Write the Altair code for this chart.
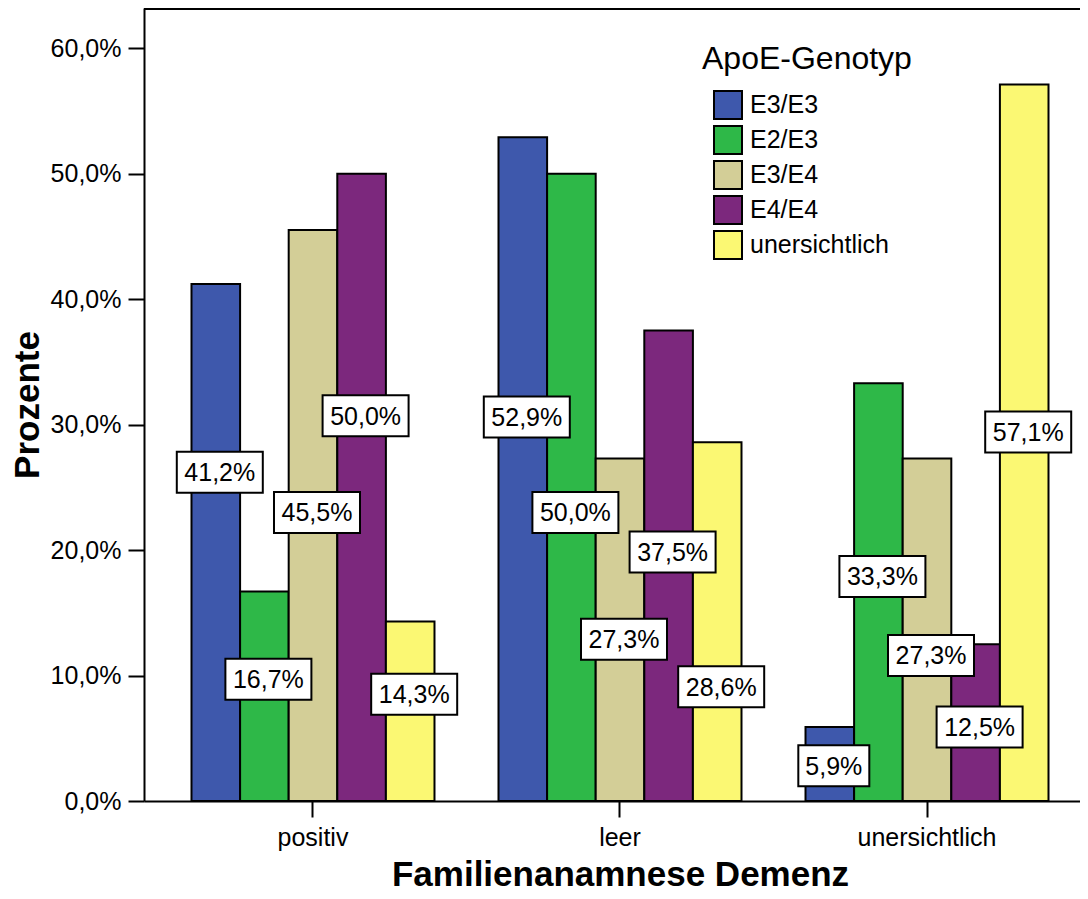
import altair as alt
import pandas as pd

# ---- data ----
groups = ["positiv", "leer", "unersichtlich"]
genotypes = ["E3/E3", "E2/E3", "E3/E4", "E4/E4", "unersichtlich"]
colors = ["#3E58AC", "#2EB848", "#D3CE97", "#7C287D", "#FBF873"]

values_positiv = [41.2, 16.7, 45.5, 50.0, 14.3]
values_leer = [52.9, 50.0, 27.3, 37.5, 28.6]
values_unersichtlich = [5.9, 33.3, 27.3, 12.5, 57.1]

# where the value boxes sit (in percent units on the y scale)
labelpos_positiv = [26.2, 9.7, 23.0, 30.7, 8.5]
labelpos_leer = [30.6, 23.0, 12.9, 19.85, 9.1]
labelpos_unersichtlich = [2.8, 17.9, 11.6, 5.9, 29.4]

rows = []
for g, vals, lps in zip(groups,
                        [values_positiv, values_leer, values_unersichtlich],
                        [labelpos_positiv, labelpos_leer, labelpos_unersichtlich]):
    for gt, v, lp in zip(genotypes, vals, lps):
        rows.append({"group": g, "genotype": gt, "value": v, "lpos": lp})
df = pd.DataFrame(rows)

FONT = "Liberation Sans"
W, H = 936, 793

x_enc = alt.X(
    "group:N", sort=groups,
    scale=alt.Scale(range=[0, 952], paddingInner=0.2085, paddingOuter=0.1547),
    axis=alt.Axis(
        title="Familienanamnese Demenz", labelAngle=0,
        labelFont=FONT, labelFontSize=25, labelColor="black",
        labelBaseline="alphabetic", labelPadding=28,
        tickSize=16, tickWidth=2, tickColor="black",
        domainColor="black", domainWidth=2,
        titleFont=FONT, titleFontSize=35, titleFontWeight="bold", titleColor="black",
        titleX=476, titleY=84, titleAlign="center", titleBaseline="alphabetic",
        grid=False,
    ),
)
xo_enc = alt.XOffset("genotype:N", sort=genotypes,
                     scale=alt.Scale(paddingInner=0, paddingOuter=0))

y_scale = alt.Scale(domain=[0, 63.2], nice=False, zero=True)

bars = alt.Chart(df).mark_bar(stroke="black", strokeWidth=2, opacity=1).encode(
    x=x_enc,
    xOffset=xo_enc,
    y=alt.Y(
        "value:Q", scale=y_scale,
        axis=alt.Axis(
            title="Prozente", values=[0, 10, 20, 30, 40, 50, 60],
            labelExpr="replace(format(datum.value, '.1f'), '.', ',') + '%'",
            labelFont=FONT, labelFontSize=25, labelColor="black", labelPadding=7,
            tickSize=16, tickWidth=2, tickColor="black",
            domainColor="black", domainWidth=2, grid=False,
            titleFont=FONT, titleFontSize=35, titleFontWeight="bold", titleColor="black",
            titleAngle=270, titleX=-106, titleY=H / 2, titleAlign="center",
            titleBaseline="alphabetic",
        ),
    ),
    color=alt.Color(
        "genotype:N", sort=genotypes,
        scale=alt.Scale(domain=genotypes, range=colors),
        legend=alt.Legend(
            title="ApoE-Genotyp", orient="none", legendX=558, legendY=36,
            titleFont=FONT, titleFontSize=32, titleFontWeight="normal", titleColor="black",
            titlePadding=14, titleLimit=500,
            labelFont=FONT, labelFontSize=25, labelColor="black", labelOffset=7,
            labelLimit=400,
            symbolType="square", symbolSize=784, symbolStrokeColor="black",
            symbolStrokeWidth=2, symbolOpacity=1, symbolOffset=11,
            rowPadding=-1, padding=0,
        ),
    ),
)

boxes = alt.Chart(df).transform_calculate(
    label="replace(format(datum.value, '.1f'), '.', ',') + '%'"
).transform_calculate(
    w="length(datum.label) * 15 + 11"
).transform_calculate(
    r="datum.w / 2",
    sz="datum.w * datum.w",
).transform_calculate(
    hy="20.5 / datum.r",
    ox="4 / datum.r",
).transform_calculate(
    shp="'M' + (-1 + datum.ox) + ',' + (-datum.hy) + 'L' + (1 + datum.ox) + ',' + (-datum.hy)"
        " + 'L' + (1 + datum.ox) + ',' + datum.hy + 'L' + (-1 + datum.ox) + ',' + datum.hy + 'Z'"
).mark_point(filled=True, fill="white", stroke="black", strokeWidth=2, opacity=1).encode(
    x=alt.X("group:N", sort=groups),
    xOffset=alt.XOffset("genotype:N", sort=genotypes),
    y=alt.Y("lpos:Q"),
    shape=alt.Shape("shp:N", scale=None),
    size=alt.Size("sz:Q", scale=None),
)

texts = alt.Chart(df).transform_calculate(
    label="replace(format(datum.value, '.1f'), '.', ',') + '%'"
).mark_text(font=FONT, fontSize=25, color="black", baseline="alphabetic",
            align="center", dx=4, dy=9).encode(
    x=alt.X("group:N", sort=groups),
    xOffset=alt.XOffset("genotype:N", sort=genotypes),
    y=alt.Y("lpos:Q"),
    text="label:N",
)

top_line = alt.Chart(df).mark_rule(color="black", strokeWidth=2).encode(
    x=alt.value(0), x2=alt.value(960), y=alt.value(1)
)

chart = alt.layer(bars, boxes, texts, top_line).properties(
    width=W, height=H,
    autosize=alt.AutoSizeParams(type="none"),
    padding={"left": 136, "top": 0, "right": 0, "bottom": 90},
).configure_view(fill="#F0F0F0", stroke=None).configure(background="white")

chart.save("out.html", embed_options={"renderer": "svg", "actions": False})
